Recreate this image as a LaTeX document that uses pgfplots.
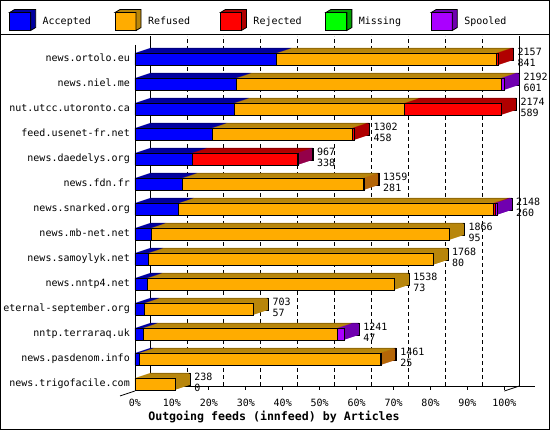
\documentclass[border=0pt]{standalone}
\usepackage{pgfplots}
\pgfplotsset{compat=1.18}
\usepackage{pgfplotstable}
\usepackage{fontspec}
\setmainfont{DejaVu Sans Mono}

\definecolor{cAcc}{RGB}{0,0,255}
\definecolor{cAccD}{RGB}{0,0,160}
\definecolor{cRef}{RGB}{255,172,0}
\definecolor{cRefD}{RGB}{184,134,11}
\definecolor{cRej}{RGB}{255,0,0}
\definecolor{cRejD}{RGB}{176,0,0}
\definecolor{cMis}{RGB}{0,255,0}
\definecolor{cMisD}{RGB}{0,160,0}
\definecolor{cSpo}{RGB}{170,0,255}
\definecolor{cSpoD}{RGB}{112,0,176}

% offered / accepted / refused / rejected / missing / spooled
\pgfplotstableread{
host                  offered acc  ref  rej mis spo
news.ortolo.eu        2157    841  1304 12  0   0
news.niel.me          2192    601  1571 0   0   20
nut.utcc.utoronto.ca  2174    589  1011 574 0   0
feed.usenet-fr.net    1302    458  830  14  0   0
news.daedelys.org     967     338  0    626 0   3
news.fdn.fr           1359    281  1076 2   0   0
news.snarked.org      2148    260  1868 8   0   12
news.mb-net.net       1866    95   1771 0   0   0
news.samoylyk.net     1768    80   1688 0   0   0
news.nntp4.net        1538    73   1465 0   0   0
eternal-september.org 703     57   646  0   0   0
nntp.terraraq.uk      1241    47   1154 0   0   40
news.pasdenom.info    1461    25   1432 4   0   0
news.trigofacile.com  238     0    238  0   0   0
}\feeds

\pgfplotsset{
  feedgeom/.style={
    scale only axis, width=369.4pt, height=345pt,
    xmin=0, xmax=2192, ymin=-0.56, ymax=13.24, y dir=reverse,
    clip=false,
  },
  feedaxis/.style={feedgeom, xbar stacked, bar width=12pt},
  cube/.style 2 args={legend image code/.code={
    \draw[line width=0.8pt, fill=#1] (0pt,-9pt) rectangle (21pt,9pt);
    \draw[line width=0.8pt, fill=#2] (0pt,9pt) -- (5pt,12pt) -- (26pt,12pt)
      -- (26pt,-6pt) -- (21pt,-9pt) -- (21pt,9pt) -- cycle;
  }},
}

\newcommand\backbars{%
  \addplot[fill=cAccD, draw=none] table[x=acc, y expr=\coordindex]{\feeds};
  \addplot[fill=cRefD, draw=none] table[x=ref, y expr=\coordindex]{\feeds};
  \addplot[fill=cRejD, draw=none] table[x=rej, y expr=\coordindex]{\feeds};
  \addplot[fill=cMisD, draw=none] table[x=mis, y expr=\coordindex]{\feeds};
  \addplot[fill=cSpoD, draw=none] table[x=spo, y expr=\coordindex]{\feeds};
}

\begin{document}
\begin{tikzpicture}[x=1pt, y=1pt, font=\fontsize{10}{12}\selectfont]
\useasboundingbox (0,0) rectangle (550,430);
\draw[line width=1pt] (0.5,0.5) rectangle (549.5,429.5);
\draw[line width=1pt] (0,395) -- (550,395);

% back wall with grid
\begin{axis}[
    scale only axis, width=369.4pt, height=350pt,
    at={(150pt,44pt)}, anchor=south west,
    xmin=0, xmax=2192, ymin=0, ymax=1,
    axis line style={draw=none},
    xtick={219.2,438.4,657.6,876.8,1096,1315.2,1534.4,1753.6,1972.8},
    xticklabels={}, ytick=\empty,
    major tick length=0pt,
    xmajorgrids,
    grid style={black, line width=0.8pt, dash pattern=on 4pt off 3pt},
    extra x ticks={0,2192}, extra x tick labels={},
    extra x tick style={grid=major, grid style={solid, black, line width=0.8pt}},
]
\end{axis}
\draw[line width=0.8pt] (150,44) -- (535,44);
\draw[line width=0.8pt] (519.4,44) -- (504.4,39);
\draw[line width=0.8pt] (135,39) -- (120,34);

% depth of the bars: far copy with outline, then nearer copies
\begin{axis}[feedaxis, hide axis, at={(150pt,45pt)}, anchor=south west]
  \addplot[fill=cAccD, draw=black, line width=0.8pt] table[x=acc, y expr=\coordindex]{\feeds};
  \addplot[fill=cRefD, draw=black, line width=0.8pt] table[x=ref, y expr=\coordindex]{\feeds};
  \addplot[fill=cRejD, draw=black, line width=0.8pt] table[x=rej, y expr=\coordindex]{\feeds};
  \addplot[fill=cMisD, draw=black, line width=0.8pt] table[x=mis, y expr=\coordindex]{\feeds};
  \addplot[fill=cSpoD, draw=black, line width=0.8pt] table[x=spo, y expr=\coordindex]{\feeds};
\end{axis}
\foreach \k in {14,13,...,1}{
  \begin{axis}[feedaxis, hide axis, at={({135pt+\k*1pt},{40pt+\k*1pt/3})}, anchor=south west]
    \backbars
  \end{axis}
}

% front faces
\begin{axis}[
    feedaxis,
    at={(135pt,40pt)}, anchor=south west,
    axis x line*=bottom, axis y line*=left,
    axis line style={-, line width=0.8pt},
    x axis line style={draw=none},
    xtick={0,219.2,438.4,657.6,876.8,1096,1315.2,1534.4,1753.6,1972.8,2192},
    xticklabels={0\%,10\%,20\%,30\%,40\%,50\%,60\%,70\%,80\%,90\%,100\%},
    xtick align=inside, major tick length=4pt,
    x tick style={line width=0.8pt, black},
    xticklabel style={anchor=center, yshift=-14pt, inner sep=0pt},
    ytick={0,...,13},
    yticklabels from table={\feeds}{host},
    y tick style={draw=none},
    yticklabel style={anchor=east, xshift=-5pt, inner sep=0pt},
    typeset ticklabels with strut,
    xlabel={Outgoing feeds (innfeed) by Articles},
    xlabel style={at={(axis description cs:0.3763,-0.0774)}, anchor=center,
      font=\bfseries\fontsize{11.6}{14}\selectfont},
    legend columns=5,
    legend style={at={(axis description cs:-0.3403,1.0725)}, anchor=west,
      draw=none, fill=none, inner sep=0pt, outer sep=0pt,
      column sep=0pt, nodes={inner sep=0pt}, font=\fontsize{10}{12}\selectfont},
]
  \addplot[fill=cAcc, draw=black, line width=0.8pt, cube={cAcc}{cAccD}] table[x=acc, y expr=\coordindex]{\feeds};
  \addlegendentry{\hspace{6.6pt}\makebox[72pt][l]{Accepted}}
  \addplot[fill=cRef, draw=black, line width=0.8pt, cube={cRef}{cRefD}] table[x=ref, y expr=\coordindex]{\feeds};
  \addlegendentry{\hspace{6.6pt}\makebox[72pt][l]{Refused}}
  \addplot[fill=cRej, draw=black, line width=0.8pt, cube={cRej}{cRejD}] table[x=rej, y expr=\coordindex]{\feeds};
  \addlegendentry{\hspace{6.6pt}\makebox[72pt][l]{Rejected}}
  \addplot[fill=cMis, draw=black, line width=0.8pt, cube={cMis}{cMisD}] table[x=mis, y expr=\coordindex]{\feeds};
  \addlegendentry{\hspace{6.6pt}\makebox[72pt][l]{Missing}}
  \addplot[fill=cSpo, draw=black, line width=0.8pt, cube={cSpo}{cSpoD}] table[x=spo, y expr=\coordindex]{\feeds};
  \addlegendentry{\hspace{6.6pt}\makebox[72pt][l]{Spooled}}
\end{axis}

% offered and accepted counts
\begin{axis}[feedgeom, hide axis, at={(135pt,40pt)}, anchor=south west]
  \addplot[draw=none, mark=none, nodes near coords, point meta=explicit symbolic,
    nodes near coords style={anchor=west, xshift=19pt, yshift=7pt, inner sep=0pt, black}]
    table[x=offered, y expr=\coordindex, meta=offered]{\feeds};
  \addplot[draw=none, mark=none, nodes near coords, point meta=explicit symbolic,
    nodes near coords style={anchor=west, xshift=19pt, yshift=-4pt, inner sep=0pt, black}]
    table[x=offered, y expr=\coordindex, meta=acc]{\feeds};
\end{axis}
\end{tikzpicture}
\end{document}
